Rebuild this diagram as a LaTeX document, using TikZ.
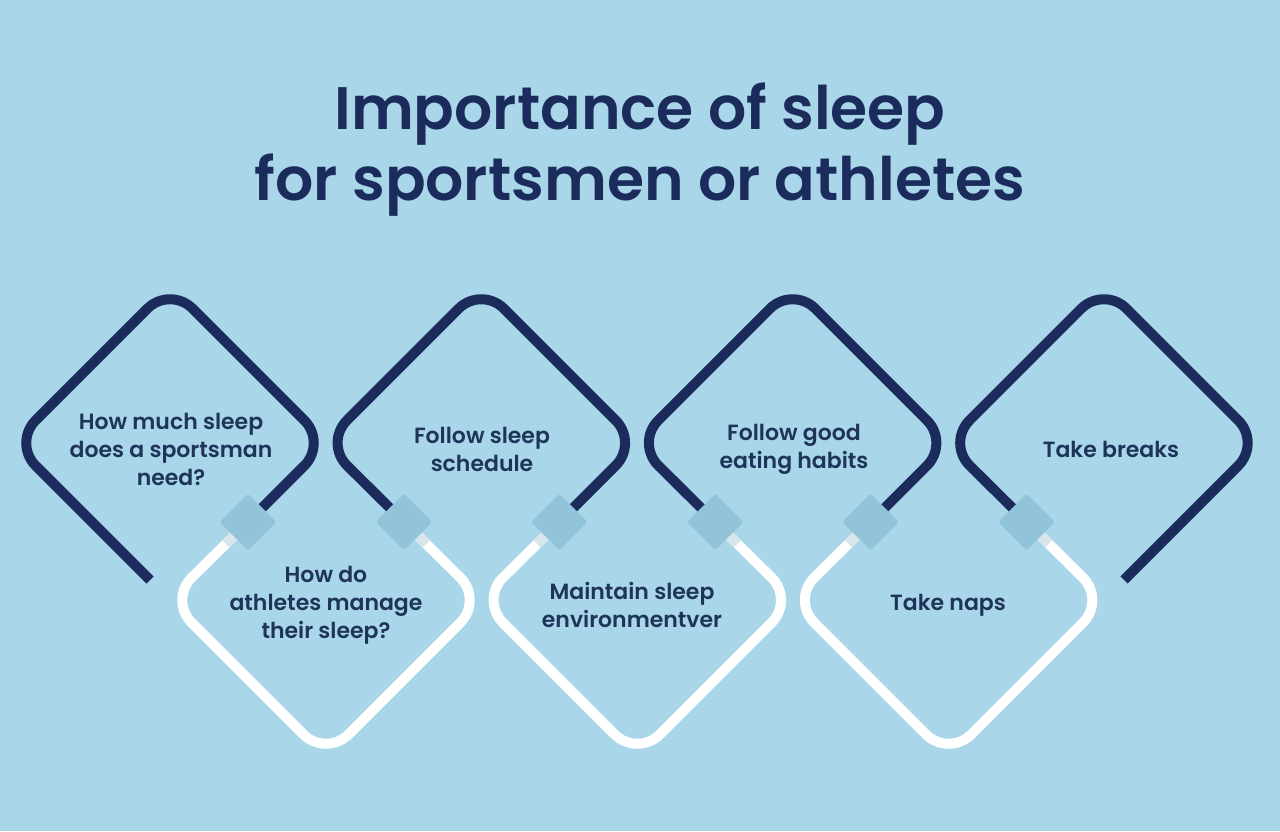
\documentclass[tikz,border=0pt]{standalone}
\usepackage{fontspec}
\setmainfont{Poppins}[UprightFont=* Medium, BoldFont=* SemiBold]
\newfontfamily\labelfont{Poppins SemiBold}
\definecolor{bgblue}{HTML}{A9D6E9}
\definecolor{navy}{HTML}{1B2C5C}
\definecolor{txtblue}{HTML}{1F3459}
\definecolor{plugblue}{HTML}{92C4D9}
\definecolor{stubgray}{HTML}{D8E5EB}
\begin{document}
\begin{tikzpicture}[x=0.75pt,y=-0.75pt,
	darkline/.style={draw=navy, line width=7.5pt, rounded corners=24pt},
	whiteline/.style={draw=white, line width=7.5pt, rounded corners=24pt},
	plug/.style={rectangle, rotate=45, fill=plugblue, minimum size=30pt, inner sep=0pt, rounded corners=2pt},
	label/.style={align=center, text=txtblue, font=\labelfont\fontsize{16.5}{21}\selectfont},
	heading/.style={anchor=base, text=navy, font=\bfseries\fontsize{45}{52}\selectfont}]

	\fill[bgblue] (0,0) rectangle (1280,831);
	\useasboundingbox (0,0) rectangle (1280,831);

	\node 	(t1)	at	(640,130)	[heading]{Importance of sleep};
	\node 	(t2)	at	(640,200)	[heading]{for sportsmen or athletes};

	\coordinate	(k1)	at	(248,522);
	\coordinate	(k2)	at	(404,522);
	\coordinate	(k3)	at	(559.3,522);
	\coordinate	(k4)	at	(715.3,522);
	\coordinate	(k5)	at	(870.6,522);
	\coordinate	(k6)	at	(1026.6,522);
	\coordinate	(o1)	at	(150,580);
	\coordinate	(o2)	at	(1124,580);

	\draw[darkline]	(o1) -- (13,443) -- (170,286) -- (327,443) -- (k1);
	\draw[darkline]	(k2) -- (324.3,443) -- (481.3,286) -- (638.3,443) -- (k3);
	\draw[darkline]	(k4) -- (635.6,443) -- (792.6,286) -- (949.6,443) -- (k5);
	\draw[darkline]	(k6) -- (946.9,443) -- (1103.9,286) -- (1260.9,443) -- (o2);

	\draw[whiteline]	(k1) -- (169,600) -- (326,757) -- (483,600) -- (k2);
	\draw[whiteline]	(k3) -- (480.3,600) -- (637.3,757) -- (794.3,600) -- (k4);
	\draw[whiteline]	(k5) -- (791.6,600) -- (948.6,757) -- (1105.6,600) -- (k6);

	\draw[stubgray, line width=7.5pt]	(k1) -- ++(-22,22);
	\draw[stubgray, line width=7.5pt]	(k2) -- ++(22,22);
	\draw[stubgray, line width=7.5pt]	(k3) -- ++(-22,22);
	\draw[stubgray, line width=7.5pt]	(k4) -- ++(22,22);
	\draw[stubgray, line width=7.5pt]	(k5) -- ++(-22,22);
	\draw[stubgray, line width=7.5pt]	(k6) -- ++(22,22);

	\node 	(p1)	at	(k1)	[plug]{};
	\node 	(p2)	at	(k2)	[plug]{};
	\node 	(p3)	at	(k3)	[plug]{};
	\node 	(p4)	at	(k4)	[plug]{};
	\node 	(p5)	at	(k5)	[plug]{};
	\node 	(p6)	at	(k6)	[plug]{};

	\node 	(a1)	at	(171,449)	[label]{How much sleep\\does a sportsman\\need?};
	\node 	(a2)	at	(482,449)	[label]{Follow sleep\\schedule};
	\node 	(a3)	at	(794,449)	[label]{Follow good\\eating habits};
	\node 	(a4)	at	(1111,449)	[label]{Take breaks};

	\node 	(b1)	at	(326,605)	[label]{How do\\athletes manage\\their sleep?};
	\node 	(b2)	at	(632,605)	[label]{Maintain sleep\\environmentver};
	\node 	(b3)	at	(948,605)	[label]{Take naps};

\end{tikzpicture}
\end{document}
